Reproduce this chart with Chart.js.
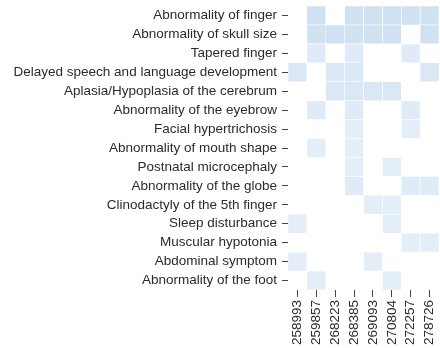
<!DOCTYPE html>
<html>
<head>
<meta charset="utf-8">
<script src="https://cdn.jsdelivr.net/npm/chart.js@4.4.1/dist/chart.umd.min.js"></script>
<style>
    html, body { margin: 0; padding: 0; background: #fff; }
    #wrap { width: 440px; height: 348px; }
</style>
</head>
<body>
<div id="wrap"><canvas id="heatmap"></canvas></div>
<script>
// 表型（行）
const phenotypes = [
    'Abnormality of finger',
    'Abnormality of skull size',
    'Tapered finger',
    'Delayed speech and language development',
    'Aplasia/Hypoplasia of the cerebrum',
    'Abnormality of the eyebrow',
    'Facial hypertrichosis',
    'Abnormality of mouth shape',
    'Postnatal microcephaly',
    'Abnormality of the globe',
    'Clinodactyly of the 5th finger',
    'Sleep disturbance',
    'Muscular hypotonia',
    'Abdominal symptom',
    'Abnormality of the foot'
];

// 病例编号（列）
const patients = ['258993', '259857', '268223', '268385', '269093', '270804', '272257', '278726'];

// 每个表型在各病例中是否出现
const presence = [
    [0, 1, 0, 1, 1, 1, 1, 1],
    [0, 1, 1, 1, 1, 1, 0, 1],
    [0, 1, 0, 1, 0, 0, 1, 0],
    [1, 0, 1, 1, 0, 0, 0, 1],
    [0, 0, 1, 1, 1, 1, 0, 0],
    [0, 1, 0, 1, 0, 0, 1, 0],
    [0, 0, 0, 1, 0, 0, 1, 0],
    [0, 1, 0, 1, 0, 0, 0, 0],
    [0, 0, 0, 1, 0, 1, 0, 0],
    [0, 0, 0, 1, 0, 0, 1, 1],
    [0, 0, 0, 0, 1, 1, 0, 0],
    [1, 0, 0, 0, 0, 1, 0, 0],
    [0, 0, 0, 0, 0, 0, 1, 1],
    [1, 0, 0, 0, 1, 0, 0, 0],
    [0, 1, 0, 0, 0, 1, 0, 0]
];

// 每行出现次数，决定颜色深浅
const rowTotals = presence.map(row => row.reduce((a, b) => a + b, 0));

// 浅蓝色阶：次数越多颜色越深
function shade(n) {
    const lo = [238, 245, 253];
    const hi = [208, 225, 242];
    const t = Math.min(Math.max(n / 6, 0), 1);
    const c = lo.map((v, k) => Math.round(v + (hi[k] - v) * t));
    return `rgb(${c[0]}, ${c[1]}, ${c[2]})`;
}

// 每个病例一组浮动条，覆盖同一行位置
const datasets = patients.map((p, j) => ({
    label: p,
    data: presence.map(row => row[j] ? [j, j + 1] : null),
    backgroundColor: ctx => shade(rowTotals[ctx.dataIndex]),
    borderColor: '#ffffff',
    borderWidth: 0.6,
    borderSkipped: false,
    grouped: false,
    barPercentage: 1,
    categoryPercentage: 1
}));

const tickFont = { family: 'Arial, "Liberation Sans", sans-serif', size: 13.5 };

new Chart(document.getElementById('heatmap'), {
    type: 'bar',
    data: { labels: phenotypes, datasets: datasets },
    options: {
        indexAxis: 'y',
        responsive: true,
        maintainAspectRatio: false,
        animation: false,
        layout: { padding: { top: 6, right: 1, left: 0, bottom: 0 } },
        plugins: {
            legend: { display: false },
            tooltip: { enabled: false }
        },
        scales: {
            y: {
                type: 'category',
                offset: true,
                border: { display: false },
                grid: {
                    drawOnChartArea: false,
                    drawTicks: true,
                    tickLength: 6,
                    color: '#444',
                    offset: false
                },
                ticks: { color: '#2b2b2b', font: tickFont, padding: 5, autoSkip: false },
                afterFit: scale => {
                    scale.width = 288;
                    // 标签都在格子中间，不需要额外的上下留白
                    scale.paddingTop = 0;
                    scale.paddingBottom = 0;
                }
            },
            x: {
                type: 'linear',
                min: 0,
                max: patients.length,
                border: { display: false },
                grid: {
                    drawOnChartArea: false,
                    drawTicks: true,
                    tickLength: 7,
                    color: '#444'
                },
                afterBuildTicks: scale => {
                    scale.ticks = patients.map((p, j) => ({ value: j + 0.5 }));
                },
                ticks: {
                    color: '#2b2b2b',
                    font: tickFont,
                    padding: 3,
                    autoSkip: false,
                    minRotation: 90,
                    maxRotation: 90,
                    callback: value => patients[Math.floor(value)]
                },
                afterFit: scale => {
                    scale.height = 58;
                    scale.paddingLeft = 0;
                    scale.paddingRight = 0;
                }
            }
        }
    }
});
</script>
</body>
</html>
